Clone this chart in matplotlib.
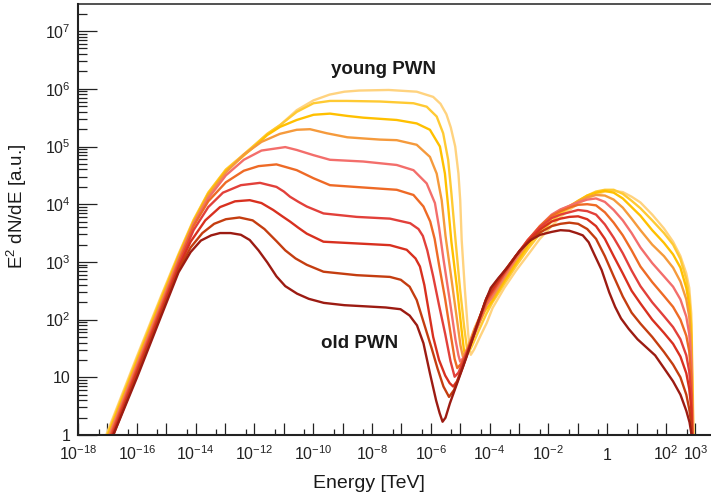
import numpy as np
import matplotlib
matplotlib.use('Agg')
import matplotlib.pyplot as plt
from matplotlib.ticker import FixedLocator, LogLocator, NullFormatter

plt.rcParams['font.family'] = ['Liberation Sans', 'DejaVu Sans']
plt.rcParams['mathtext.fontset'] = 'custom'
plt.rcParams['mathtext.rm'] = 'Liberation Sans'
plt.rcParams['mathtext.it'] = 'Liberation Sans:italic'
plt.rcParams['mathtext.bf'] = 'Liberation Sans:bold'

# all values are log10(E / TeV) and log10(E^2 dN/dE)
# oldest PWN (dark red) first, youngest (light yellow) last
e0 = [-16.80, -15.99, -15.18, -14.58, -14.17, -13.82, -13.47, -13.17, -12.81, -12.46,
      -12.16, -11.86, -11.56, -11.25, -10.95, -10.55, -10.15, -9.64, -8.94, -8.23,
      -7.53, -7.03, -6.72, -6.47, -6.25, -6.03, -5.82, -5.70, -5.60, -5.50,
      -5.35, -5.06, -4.78, -4.46, -4.16, -3.96, -3.70, -3.40, -2.97, -2.60,
      -2.28, -1.89, -1.59, -1.29, -1.04, -0.83, -0.63, -0.43, -0.19, 0.07,
      0.27, 0.47, 0.73, 1.03, 1.33, 1.63, 1.93, 2.24, 2.49, 2.69, 2.80, 2.87]
f0 = [0, 1.0, 2.05, 2.82, 3.17, 3.37, 3.46, 3.5, 3.5, 3.47,
      3.38, 3.2, 2.99, 2.75, 2.58, 2.45, 2.36, 2.29, 2.25, 2.23,
      2.21, 2.18, 2.07, 1.90, 1.59, 1.07, 0.6, 0.38, 0.23, 0.3,
      0.55, 0.96, 1.36, 1.85, 2.3, 2.55, 2.72, 2.9, 3.2, 3.38,
      3.47, 3.52, 3.55, 3.54, 3.5, 3.46, 3.34, 3.12, 2.86, 2.47,
      2.22, 2.02, 1.84, 1.66, 1.52, 1.38, 1.16, 0.93, 0.70, 0.42, 0.22, 0]

# synchrotron part + dip, curves 1..9
s_e1 = [-16.80, -15.99, -15.18, -14.58, -14.17, -13.77, -13.37, -12.97, -12.51, -12.06, -11.66, -11.25, -10.95, -10.60, -10.22, -9.65, -8.52, -7.39, -7.02, -6.72, -6.48, -6.20, -5.97, -5.77, -5.57, -5.38, -5.21, -4.91, -4.51, -4.11]
s_f1 = [0, 1.05, 2.09, 2.86, 3.25, 3.5, 3.66, 3.74, 3.77, 3.72, 3.57, 3.36, 3.20, 3.06, 2.95, 2.83, 2.77, 2.74, 2.69, 2.57, 2.34, 1.88, 1.5, 1.15, 0.84, 0.66, 0.78, 1.18, 1.78, 2.37]
s_e2 = [-16.83, -15.99, -15.18, -14.58, -14.17, -13.67, -13.17, -12.66, -12.16, -11.76, -11.36, -11.05, -10.79, -10.50, -10.22, -9.65, -8.52, -7.39, -6.82, -6.52, -6.37, -6.22, -6.07, -5.92, -5.72, -5.51, -5.36, -5.24, -5.11, -4.91, -4.51, -4.11]
s_f2 = [0, 1.09, 2.13, 2.9, 3.35, 3.72, 3.95, 4.05, 4.07, 4.02, 3.9, 3.79, 3.70, 3.59, 3.49, 3.35, 3.32, 3.29, 3.21, 3.06, 2.92, 2.6, 2.15, 1.7, 1.3, 1.03, 0.9, 0.84, 0.93, 1.2, 1.78, 2.36]
s_e3 = [-16.86, -15.99, -15.18, -14.58, -14.07, -13.57, -13.07, -12.46, -11.81, -11.25, -11.00, -10.79, -10.50, -10.22, -9.65, -8.52, -7.39, -6.70, -6.42, -6.27, -6.12, -5.92, -5.72, -5.51, -5.33, -5.19, -5.06, -4.81, -4.51, -4.11]
s_f3 = [0, 1.13, 2.17, 2.95, 3.55, 3.95, 4.2, 4.33, 4.37, 4.3, 4.22, 4.13, 4.04, 3.96, 3.84, 3.78, 3.75, 3.67, 3.57, 3.45, 3.2, 2.75, 2.25, 1.75, 1.28, 1.01, 1.08, 1.38, 1.8, 2.34]
s_e4 = [-16.89, -15.99, -15.18, -14.58, -14.07, -13.57, -12.97, -12.36, -11.86, -11.25, -10.56, -9.99, -9.43, -8.30, -7.16, -6.59, -6.25, -6.02, -5.87, -5.72, -5.51, -5.31, -5.19, -5.10, -4.96, -4.71, -4.41, -4.11]
s_f4 = [0, 1.17, 2.21, 3.0, 3.62, 4.05, 4.38, 4.58, 4.66, 4.69, 4.59, 4.45, 4.33, 4.29, 4.25, 4.16, 3.96, 3.7, 3.4, 2.95, 2.35, 1.7, 1.32, 1.16, 1.24, 1.5, 1.9, 2.3]
s_e5 = [-16.92, -15.99, -15.18, -14.58, -14.07, -13.57, -12.97, -12.36, -11.76, -10.95, -10.56, -9.99, -9.43, -8.30, -7.16, -6.59, -6.14, -5.86, -5.72, -5.57, -5.36, -5.16, -5.06, -5.0, -4.86, -4.61, -4.31, -4.11]
s_f5 = [0, 1.21, 2.25, 3.03, 3.65, 4.1, 4.5, 4.77, 4.93, 4.99, 4.94, 4.85, 4.77, 4.74, 4.68, 4.59, 4.36, 4.02, 3.6, 3.05, 2.35, 1.65, 1.38, 1.27, 1.36, 1.62, 2.0, 2.25]
s_e6 = [-16.95, -15.99, -15.18, -14.58, -14.07, -13.57, -12.97, -12.36, -11.76, -11.13, -10.56, -10.11, -9.54, -8.84, -8.30, -7.73, -7.16, -6.48, -6.03, -5.80, -5.63, -5.50, -5.31, -5.11, -4.99, -4.91, -4.76, -4.51, -4.21]
s_f6 = [0, 1.25, 2.29, 3.07, 3.68, 4.15, 4.55, 4.86, 5.08, 5.22, 5.29, 5.30, 5.23, 5.16, 5.14, 5.12, 5.11, 5.03, 4.82, 4.53, 4.07, 3.45, 2.75, 2.0, 1.55, 1.36, 1.5, 1.85, 2.2]
s_e7 = [-16.98, -15.99, -15.18, -14.58, -14.07, -13.57, -12.97, -12.46, -11.96, -11.56, -11.13, -10.56, -9.99, -9.43, -8.84, -8.30, -7.73, -7.16, -6.48, -6.03, -5.69, -5.52, -5.41, -5.30, -5.11, -4.96, -4.88, -4.84, -4.71, -4.46, -4.16]
s_f7 = [0, 1.29, 2.33, 3.1, 3.7, 4.18, 4.58, 4.8, 5.02, 5.2, 5.34, 5.46, 5.55, 5.57, 5.53, 5.50, 5.48, 5.46, 5.40, 5.29, 5.0, 4.53, 3.96, 3.35, 2.55, 1.85, 1.5, 1.39, 1.52, 1.82, 2.15]
s_e8 = [-17.01, -15.99, -15.18, -14.58, -14.07, -13.57, -12.97, -12.46, -11.96, -11.56, -11.13, -10.56, -9.99, -9.43, -8.86, -7.73, -6.59, -6.14, -5.80, -5.58, -5.41, -5.30, -5.16, -5.01, -4.86, -4.77, -4.73, -4.61, -4.36, -4.11]
s_f8 = [0, 1.33, 2.37, 3.12, 3.72, 4.2, 4.6, 4.82, 5.04, 5.22, 5.37, 5.6, 5.75, 5.79, 5.79, 5.78, 5.75, 5.69, 5.52, 5.23, 4.77, 4.19, 3.38, 2.55, 1.85, 1.5, 1.42, 1.53, 1.82, 2.1]
s_e9 = [-17.04, -15.99, -15.18, -14.58, -14.07, -13.57, -12.97, -12.46, -11.96, -11.56, -11.13, -10.56, -9.99, -9.44, -8.94, -8.44, -7.43, -6.48, -5.92, -5.67, -5.47, -5.32, -5.17, -5.06, -5.00, -4.95, -4.84, -4.73, -4.67, -4.64, -4.53, -4.31, -4.10]
s_f9 = [0, 1.37, 2.4, 3.14, 3.73, 4.2, 4.6, 4.82, 5.04, 5.22, 5.37, 5.63, 5.8, 5.9, 5.95, 5.97, 5.98, 5.95, 5.86, 5.74, 5.56, 5.33, 5.0, 4.53, 4.07, 3.38, 2.51, 1.76, 1.47, 1.39, 1.48, 1.72, 1.94]

# inverse Compton part on a common energy grid, curves 1..9
ic_e = [-3.90, -3.50, -3.10, -2.70, -2.29, -1.89, -1.59, -1.29, -0.99, -0.68, -0.38, -0.08,
        0.22, 0.53, 0.83, 1.13, 1.53, 1.93, 2.24, 2.49, 2.69, 2.79, 2.86]
ic_f1 = [2.57, 2.84, 3.11, 3.34, 3.51, 3.62, 3.66, 3.68, 3.66, 3.57, 3.40, 3.1, 2.75, 2.4, 2.12, 1.93, 1.7, 1.44, 1.22, 1.0, 0.7, 0.45, 0.2]
ic_f2 = [2.53, 2.83, 3.11, 3.36, 3.56, 3.70, 3.75, 3.78, 3.79, 3.74, 3.62, 3.40, 3.1, 2.8, 2.5, 2.28, 2.0, 1.77, 1.58, 1.36, 1.07, 0.8, 0.45]
ic_f3 = [2.5, 2.81, 3.11, 3.38, 3.6, 3.76, 3.82, 3.86, 3.9, 3.88, 3.82, 3.65, 3.42, 3.15, 2.85, 2.58, 2.3, 2.06, 1.87, 1.66, 1.38, 1.1, 0.7]
ic_f4 = [2.47, 2.79, 3.1, 3.38, 3.62, 3.80, 3.88, 3.94, 3.99, 4.0, 3.98, 3.86, 3.68, 3.46, 3.2, 2.92, 2.65, 2.41, 2.22, 2.0, 1.72, 1.45, 1.0]
ic_f5 = [2.43, 2.76, 3.07, 3.36, 3.62, 3.82, 3.91, 3.97, 4.03, 4.08, 4.10, 4.04, 3.9, 3.72, 3.5, 3.25, 2.98, 2.75, 2.57, 2.35, 2.05, 1.75, 1.25]
ic_f6 = [2.38, 2.72, 3.04, 3.33, 3.6, 3.80, 3.9, 3.97, 4.05, 4.12, 4.16, 4.15, 4.08, 3.94, 3.75, 3.55, 3.3, 3.1, 2.9, 2.66, 2.35, 2.05, 1.5]
ic_f7 = [2.33, 2.67, 2.98, 3.28, 3.55, 3.76, 3.87, 3.96, 4.06, 4.15, 4.20, 4.23, 4.2, 4.1, 3.95, 3.8, 3.55, 3.33, 3.13, 2.9, 2.55, 2.25, 1.7]
ic_f8 = [2.3, 2.62, 2.93, 3.22, 3.49, 3.70, 3.83, 3.94, 4.05, 4.15, 4.22, 4.25, 4.25, 4.18, 4.06, 3.93, 3.72, 3.5, 3.30, 3.05, 2.7, 2.4, 1.9]
ic_f9 = [2.2, 2.55, 2.85, 3.12, 3.40, 3.62, 3.78, 3.90, 4.01, 4.1, 4.17, 4.22, 4.23, 4.21, 4.13, 4.03, 3.82, 3.58, 3.35, 3.1, 2.8, 2.55, 2.1]
# high-energy cutoff (where each curve hits the bottom axis)
e_cut = [2.88, 2.89, 2.89, 2.90, 2.91, 2.91, 2.92, 2.93, 2.94]

colors = ['#9c1b12', '#c43d10', '#d8301f', '#e2403a', '#ee6a26',
          '#f36e6b', '#f59a3c', '#ffc000', '#ffca33', '#ffd37f']

sync_e = [s_e1, s_e2, s_e3, s_e4, s_e5, s_e6, s_e7, s_e8, s_e9]
sync_f = [s_f1, s_f2, s_f3, s_f4, s_f5, s_f6, s_f7, s_f8, s_f9]
ic_f = [ic_f1, ic_f2, ic_f3, ic_f4, ic_f5, ic_f6, ic_f7, ic_f8, ic_f9]

curves = [(e0, f0)]
for se, sf, icf, ec in zip(sync_e, sync_f, ic_f, e_cut):
    curves.append((se + ic_e + [ec], sf + icf + [-0.05]))

W, H = 711, 499
fig = plt.figure(figsize=(W / 100, H / 100), dpi=100)
ax = fig.add_axes([78 / W, 1 - 435 / H, 1 - 78 / W, 431 / H])

# youngest drawn first, oldest on top
for (le, lf), c in reversed(list(zip(curves, colors))):
    ax.plot(10 ** np.array(le), 10 ** np.array(lf), color=c, lw=1.7,
            solid_joinstyle='round', solid_capstyle='round')

ax.set_xscale('log')
ax.set_yscale('log')
ax.set_xlim(1e-18, 10 ** 3.53)
ax.set_ylim(1, 10 ** 7.47)

xmaj = [10.0 ** k for k in range(-18, 4)]
xlab = []
for k in range(-18, 4):
    if k == 0:
        xlab.append('1')
    elif k % 2 == 0 or k == 3:
        xlab.append('$10^{%d}$' % k)
    else:
        xlab.append('')
ax.xaxis.set_major_locator(FixedLocator(xmaj))
ax.set_xticklabels(xlab)
ax.xaxis.set_minor_locator(LogLocator(base=10, subs=[5.0], numticks=100))
ax.xaxis.set_minor_formatter(NullFormatter())

ymaj = [10.0 ** k for k in range(0, 8)]
ylab = ['1', '10'] + ['$10^{%d}$' % k for k in range(2, 8)]
ax.yaxis.set_major_locator(FixedLocator(ymaj))
ax.set_yticklabels(ylab)
ax.yaxis.set_minor_locator(LogLocator(base=10, subs=np.arange(2, 10), numticks=100))
ax.yaxis.set_minor_formatter(NullFormatter())

ax.tick_params(axis='x', which='major', direction='in', length=8.6, width=0.9,
               labelsize=11.5, pad=18, colors='#222222')
ax.tick_params(axis='x', which='minor', direction='in', length=4.3, width=0.9, colors='#222222')
ax.tick_params(axis='y', which='major', direction='in', length=13.5, width=0.9,
               labelsize=11.5, pad=5.5, colors='#222222')
ax.tick_params(axis='y', which='minor', direction='in', length=6.5, width=0.9, colors='#222222')
for t in ax.xaxis.get_major_ticks():
    t.label1.set_verticalalignment('baseline')

for s in ['left', 'bottom']:
    ax.spines[s].set_linewidth(1.5)
    ax.spines[s].set_color('#222222')
ax.spines['top'].set_linewidth(1.1)
ax.spines['top'].set_color('#222222')
ax.spines['right'].set_visible(False)

fig.text(384 / W, 1 - 69 / H, 'young PWN', ha='center', va='center',
         fontsize=13.5, fontweight='bold', color='#1a1a1a')
fig.text(360 / W, 1 - 343 / H, 'old PWN', ha='center', va='center',
         fontsize=13.5, fontweight='bold', color='#1a1a1a')
fig.text(369 / W, 1 - 483 / H, 'Energy [TeV]', ha='center', va='center',
         fontsize=14, color='#1a1a1a')
fig.text(17 / W, 1 - 206 / H, 'E$^2$ dN/dE [a.u.]', ha='center', va='center',
         rotation=90, fontsize=13.5, color='#1a1a1a')

fig.savefig('out.png', dpi=100)
